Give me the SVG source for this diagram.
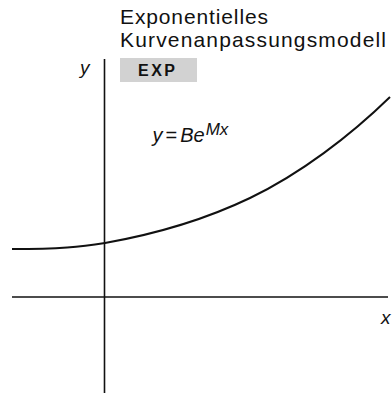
<svg xmlns="http://www.w3.org/2000/svg" width="392" height="396" viewBox="0 0 392 396">
<style>
.title{font-family:"Liberation Sans",Arial,sans-serif;font-size:21px;fill:#111}
.lab{font-family:"Liberation Sans",Arial,sans-serif;font-style:italic;fill:#111}
.axis{stroke:#111;stroke-width:1.6;fill:none}
.curve{stroke:#111;stroke-width:2;fill:none}
</style>
<rect width="392" height="396" fill="#fff"/>
<g id="title">
<text class="title" x="120" y="23.5" textLength="148" lengthAdjust="spacing">Exponentielles</text>
<text class="title" x="120" y="47" textLength="266" lengthAdjust="spacing">Kurvenanpassungsmodell</text>
</g>
<g id="exp-key">
<rect x="120" y="58" width="77" height="24" fill="#d2d2d2"/>
<text x="138" y="76" font-family="'Liberation Sans',Arial,sans-serif" font-weight="bold" font-size="16" letter-spacing="2.5" fill="#111">EXP</text>
</g>
<g id="axes">
<line class="axis" x1="104.5" y1="59" x2="104.5" y2="393"/>
<line class="axis" x1="12" y1="297" x2="388" y2="297"/>
</g>
<g id="curve">
<path class="curve" d="M12,249 C60,249 80,247 105,243 C150,235 200,222 250,198 C300,174 350,136 390,97"/>
</g>
<g id="labels">
<text class="lab" x="80" y="74" font-size="19">y</text>
<text class="lab" x="381" y="324" font-size="19">x</text>
<text class="lab" x="152.5" y="142" font-size="20">y<tspan font-style="normal" dx="3">=</tspan><tspan dx="3">Be</tspan><tspan dx="1" dy="-7" font-size="17">Mx</tspan></text>
</g>
</svg>
